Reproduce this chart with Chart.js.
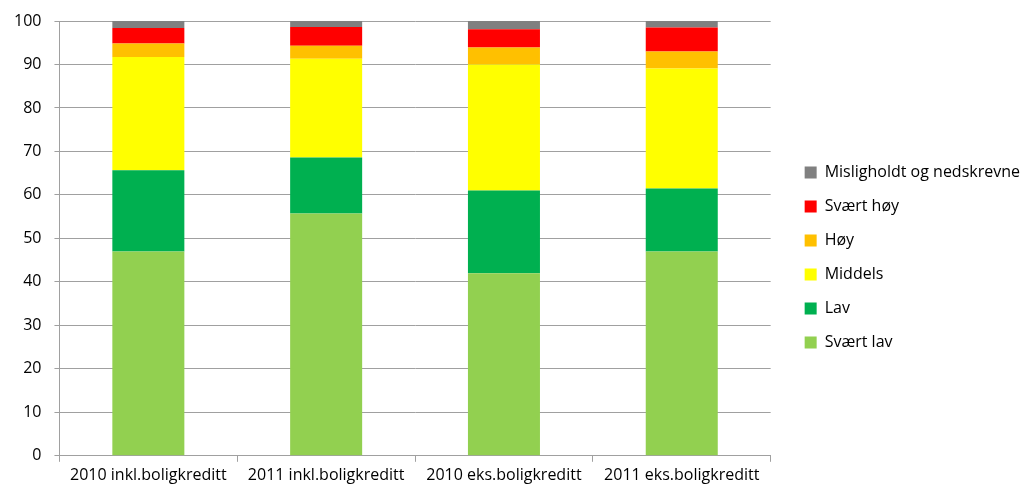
<!DOCTYPE html>
<html>
<head>
<meta charset="utf-8">
<script src="https://cdn.jsdelivr.net/npm/chart.js@4"></script>
<style>
  html, body { margin: 0; padding: 0; background: #fff; }
  #wrap { width: 1026px; height: 489px; }
</style>
</head>
<body>
<div id="wrap"><canvas id="risiko" width="1026" height="489"></canvas></div>
<script>
const categories = ['2010 inkl.boligkreditt', '2011 inkl.boligkreditt', '2010 eks.boligkreditt', '2011 eks.boligkreditt'];
const svaertLav = [47, 55.7, 42, 47];
const lav = [18.7, 12.9, 19, 14.5];
const middels = [26, 22.7, 29, 27.6];
const hoy = [3.1, 3.0, 3.9, 3.9];
const svaertHoy = [3.6, 4.3, 4.2, 5.5];
const mislighold = [1.6, 1.4, 1.9, 1.5];
const yTicks = [0, 10, 20, 30, 40, 50, 60, 70, 80, 90, 100];

const font = "'Open Sans', sans-serif";
Chart.defaults.font.family = font;
Chart.defaults.color = '#000';

// legend sits further from the plot and a bit lower in the original
const legendGap = {
  id: 'legendGap',
  beforeInit(chart) {
    const fit = chart.legend.fit;
    chart.legend.fit = function () {
      fit.call(this);
      this.width += 12;
    };
  },
  afterLayout(chart) {
    const lg = chart.legend;
    lg.left += 16; lg.right += 16;
    lg.top += 7; lg.bottom += 7;
  }
};

const ctx = document.getElementById('risiko').getContext('2d');
new Chart(ctx, {
  type: 'bar',
  data: {
    labels: categories,
    datasets: [
      { label: 'Svært lav', data: svaertLav, backgroundColor: '#92D050' },
      { label: 'Lav', data: lav, backgroundColor: '#00B050' },
      { label: 'Middels', data: middels, backgroundColor: '#FFFF00' },
      { label: 'Høy', data: hoy, backgroundColor: '#FFC000' },
      { label: 'Svært høy', data: svaertHoy, backgroundColor: '#FF0000' },
      { label: 'Misligholdt og nedskrevne', data: mislighold, backgroundColor: '#808080' }
    ]
  },
  options: {
    responsive: false,
    animation: false,
    layout: { padding: { top: 12, right: 0, left: 1, bottom: 0 } },
    datasets: { bar: { categoryPercentage: 1, barPercentage: 0.405, borderWidth: 0 } },
    plugins: {
      tooltip: { enabled: false },
      legend: {
        position: 'right',
        reverse: true,
        labels: {
          boxWidth: 12,
          boxHeight: 12,
          padding: 18,
          font: { size: 16 }
        }
      }
    },
    scales: {
      x: {
        stacked: true,
        offset: true,
        grid: { offset: true, drawOnChartArea: false, drawTicks: true, tickLength: 6, color: '#A0A0A0' },
        border: { color: '#A0A0A0' },
        ticks: { font: { size: 16 }, padding: 4 }
      },
      y: {
        stacked: true,
        min: 0,
        max: 100,
        afterBuildTicks: (axis) => { axis.ticks = yTicks.map(v => ({ value: v })); },
        grid: { color: '#A0A0A0', tickLength: 5 },
        border: { color: '#A0A0A0' },
        ticks: { font: { size: 16, lineHeight: 1 }, padding: 13 }
      }
    }
  },
  plugins: [legendGap]
});
</script>
</body>
</html>
